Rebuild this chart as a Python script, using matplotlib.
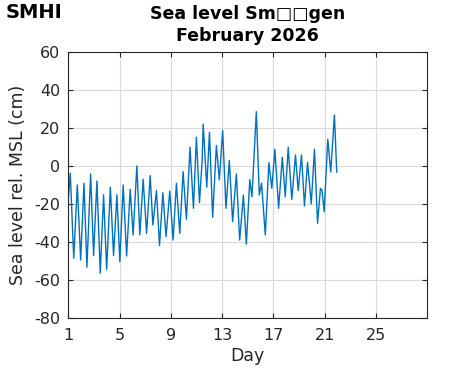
import matplotlib
matplotlib.use("Agg")
import matplotlib.pyplot as plt

# sea level extremes (day of month, cm)
days = [1.00, 1.14, 1.41, 1.69, 1.95, 2.21, 2.44, 2.73, 2.96, 3.22,
        3.48, 3.74, 3.98, 4.27, 4.52, 4.78, 5.01, 5.27, 5.54, 5.82,
        6.05, 6.34, 6.57, 6.83, 7.10, 7.38, 7.59, 7.87, 8.11, 8.37,
        8.62, 8.91, 9.17, 9.43, 9.69, 9.95, 10.21, 10.49, 10.76, 10.99,
        11.23, 11.44, 11.52, 11.80, 12.01, 12.26, 12.55, 12.78, 13.04, 13.30,
        13.56, 13.82, 14.11, 14.37, 14.66, 14.89, 15.16, 15.33, 15.67, 15.90,
        16.08, 16.37, 16.65, 16.88, 17.12, 17.41, 17.70, 17.93, 18.16, 18.44,
        18.73, 18.94, 19.20, 19.43, 19.67, 19.96, 20.21, 20.45, 20.68, 20.80,
        20.97, 21.25, 21.48, 21.77, 21.95]
level = [-16.0, -3.7, -48.4, -9.8, -49.3, -8.9, -53.1, -4.0, -47.0, -7.7,
         -56.3, -15.0, -54.2, -11.0, -47.0, -15.0, -50.2, -9.8, -47.2, -12.1,
         -36.1, 0.2, -36.1, -6.8, -35.3, -4.9, -30.9, -12.8, -41.7, -13.9,
         -37.0, -13.0, -38.8, -8.9, -35.3, -2.8, -27.9, 10.0, -22.1, 15.3,
         -19.1, 3.0, 22.3, -11.0, 17.9, -26.8, 10.9, -7.2, 18.8, -22.1,
         3.0, -29.1, -4.0, -38.8, -15.1, -40.9, -7.0, -16.0, 28.8, -15.1,
         -8.9, -36.1, 1.9, -11.6, 9.0, -22.1, 4.7, -16.0, 10.0, -17.4,
         6.0, -12.8, 6.0, -20.9, 2.1, -19.8, 9.0, -30.0, -11.6, -12.5,
         -23.9, 14.2, -3.0, 27.0, -3.0]

xticks = [1, 5, 9, 13, 17, 21, 25]
yticks = [-80, -60, -40, -20, 0, 20, 40, 60]

plt.rcParams['axes.unicode_minus'] = False
dark = (0.15, 0.15, 0.15)

fig = plt.figure(figsize=(4.71, 3.71), dpi=100)
ax = fig.add_axes([0.1454, 0.142, 0.7612, 0.717])

ax.plot(days, level, color='#0072BD', linewidth=1.0)

ax.set_xlim(1, 29)
ax.set_ylim(-80, 60)
ax.set_xticks(xticks)
ax.set_yticks(yticks)
ax.grid(True, color=(0.85, 0.85, 0.85), linewidth=0.8)
ax.set_axisbelow(True)
ax.tick_params(direction='in', length=3.5, width=0.8, colors=dark,
               labelsize=11.5, top=True, right=True)
ax.tick_params(axis='y', pad=6)
ax.tick_params(axis='x', pad=7)
for s in ax.spines.values():
    s.set_color(dark)
    s.set_linewidth(0.8)

ax.set_xlabel('Day', fontsize=12.5, color=dark, labelpad=3)
ax.set_ylabel('Sea level rel. MSL (cm)', fontsize=12.5, color=dark, labelpad=5)
ax.set_title('Sea level Sm\u25a1\u25a1gen\nFebruary 2026', fontsize=12.5,
             fontweight='bold', color='black', pad=8, linespacing=1.3)

# logo text, top left
fig.text(0.011, 0.993, 'SMHI', ha='left', va='top', fontsize=14,
         fontweight='heavy', family='DejaVu Sans', color='black')

fig.savefig('out.png', dpi=100)
